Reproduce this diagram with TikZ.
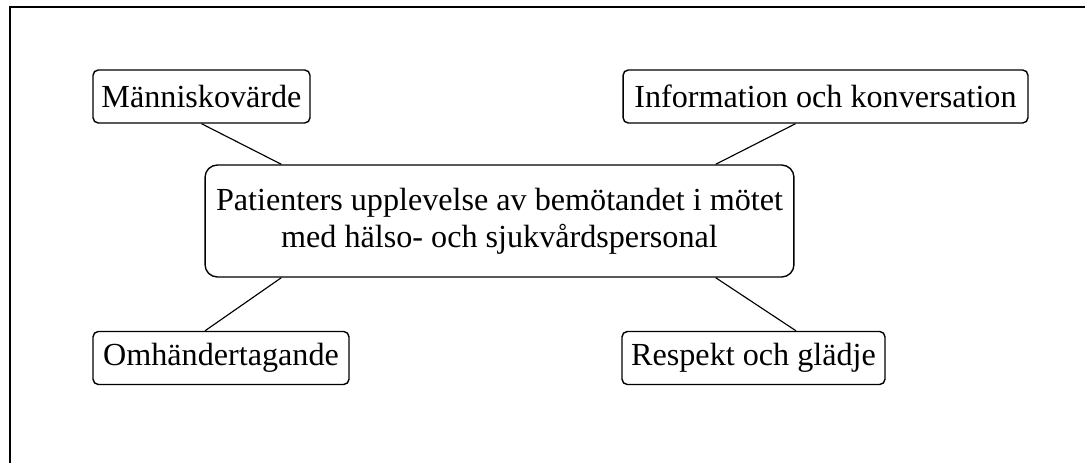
\documentclass[tikz,border=0pt]{standalone}
\usepackage{fontspec}
\setmainfont{Liberation Serif}
\usetikzlibrary{positioning}

\tikzset{
	theme/.style={draw, rounded corners=3pt, line width=0.8pt, inner sep=0pt,
		font=\fontsize{18.3}{21}\selectfont, minimum height=1.06cm},
	core/.style={theme, rounded corners=7pt, align=center,
		minimum width=11.78cm, minimum height=2.24cm},
	link/.style={line width=0.65pt}
}

\begin{document}
\begin{tikzpicture}[x=0.02cm,y=-0.02cm]
		\clip (0,0) rectangle (1085,463);
		\draw[line width=1.1pt] (10,7) rectangle (1110,490);
		%
		\node[core] (C) at (499.5,221) {Patienters upplevelse av bemötandet i mötet\\med hälso- och sjukvårdspersonal};
		\node[theme,minimum width=4.34cm] (M) at (201.5,96.5) {Människovärde};
		\node[theme,minimum width=8.1cm] (I) at (825.5,96.5) {Information och konversation};
		\node[theme,minimum width=5.12cm] (O) at (221,358) {Omhändertagande};
		\node[theme,minimum width=5.26cm] (R) at (753.5,358) {Respekt och glädje};
		%
		\draw[link] (M.south) -- ([xshift=1.54cm]C.north west);
		\draw[link] ([xshift=-0.6cm]I.south) -- ([xshift=-1.58cm]C.north east);
		\draw[link] ([xshift=-0.32cm]O.north) -- ([xshift=1.54cm]C.south west);
		\draw[link] ([xshift=0.85cm]R.north) -- ([xshift=-1.58cm]C.south east);
	\end{tikzpicture}
\end{document}
